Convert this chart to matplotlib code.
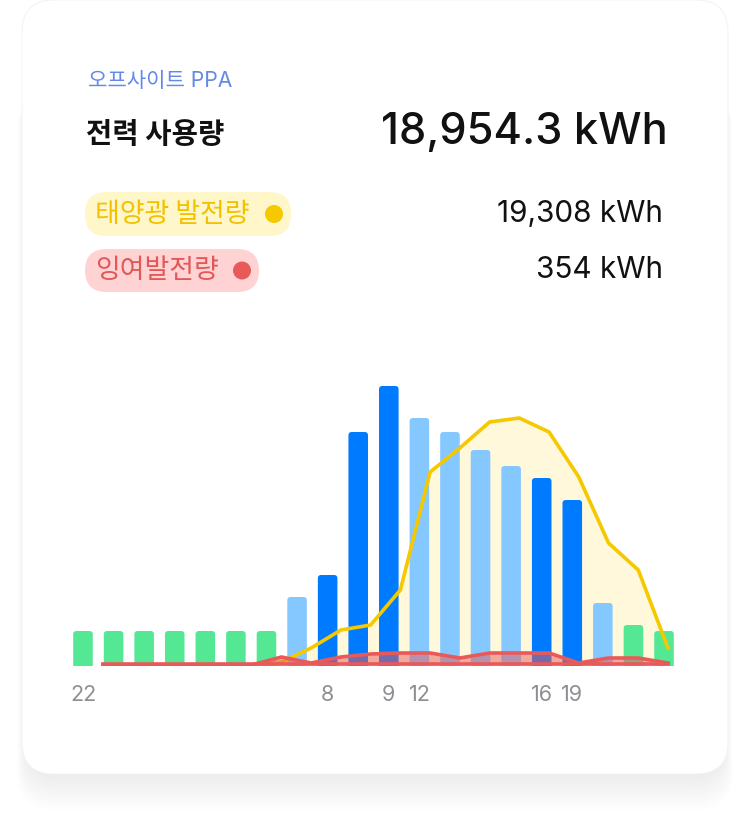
import numpy as np
import matplotlib.pyplot as plt
from matplotlib.patches import FancyBboxPatch, Circle

# 데이터
usage = [34, 34, 34, 34, 34, 34, 34, 68, 90, 233, 279, 247, 233, 215, 199, 187, 165, 62, 40, 34]
kind = ['off'] * 7 + ['mid', 'peak', 'peak', 'peak', 'mid', 'mid', 'mid', 'mid',
                      'peak', 'peak', 'mid', 'off', 'off']
solar = [0, 0, 0, 0, 0, 0, 3, 17, 35, 40, 75, 193, 217, 243, 247, 233, 188, 122, 95, 17]
surplus = [0, 0, 0, 0, 0, 0, 8, 2, 8, 11, 12, 12, 7, 12, 12, 12, 2, 7, 7, 2]
tick_idx = [0, 8, 10, 11, 15, 16]
tick_lbl = ['22', '8', '9', '12', '16', '19']

title_small = '오프사이트 PPA'
title_main = '전력 사용량'
total_usage = '18,954.3 kWh'
legend_names = ['태양광 발전량', '잉여발전량']
legend_values = ['19,308 kWh', '354 kWh']

bar_colors = {'off': '#55E894', 'mid': '#85C8FF', 'peak': '#007BFF'}
YELLOW = '#F5C800'
RED = '#E85A5A'
FONT = ['Inter', 'Noto Sans CJK KR', 'DejaVu Sans']
plt.rcParams['font.family'] = FONT

W, H = 750, 819
fig = plt.figure(figsize=(W / 100, H / 100), dpi=100)
fig.patch.set_facecolor('white')

# 카드 배경 (픽셀 좌표)
bg = fig.add_axes([0, 0, 1, 1])
bg.set_xlim(0, W)
bg.set_ylim(H, 0)
bg.axis('off')
# 부드러운 그림자
for k in range(18):
    off = 4 + k * 1.9
    grow = k * 0.5
    sh = FancyBboxPatch((22 - grow + 4, 60 + off), 706 + 2 * grow - 8, 714,
                        boxstyle='round,pad=0,rounding_size=36',
                        fc='#9090a0', ec='none', alpha=0.008)
    bg.add_patch(sh)
card = FancyBboxPatch((22, 0), 706, 774, boxstyle='round,pad=0,rounding_size=32',
                      fc='white', ec='#f3f3f5', lw=0.7)
bg.add_patch(card)

# 텍스트
bg.text(88, 81, title_small, fontsize=15.2, color='#6388E8', va='center', ha='left')
bg.text(86, 134, title_main, fontsize=20.6, fontweight='bold', color='#111111',
        va='center', ha='left', family=['Noto Sans CJK KR', 'DejaVu Sans'])
bg.text(668, 132, total_usage, fontsize=31.2, fontweight='medium', color='#111111',
        va='center', ha='right')

pills = [(85, 192, 206, 44, '#FFF6C9', '#F2C200', YELLOW, 274),
         (85, 249, 174, 43, '#FFD3D3', '#E05858', RED, 242)]
for (px, py, pw, ph, fc, tc, dc, dx), name, val in zip(pills, legend_names, legend_values):
    bg.add_patch(FancyBboxPatch((px, py), pw, ph,
                                boxstyle='round,pad=0,rounding_size=21.5',
                                fc=fc, ec='none'))
    bg.text(px + 10, py + ph / 2, name, fontsize=19.4, color=tc, va='center', ha='left',
            family=['Noto Sans CJK KR', 'DejaVu Sans'])
    bg.add_patch(Circle((dx, py + ph / 2), 9, fc=dc, ec='none'))
    bg.text(663, py + ph / 2, val, fontsize=21.4, color='#111111', va='center', ha='right')

# 차트 영역
step = 30.58
left_px = 83 - step / 2
ax = fig.add_axes([left_px / W, (H - 666) / H, (20 * step) / W, 286 / H])
ax.set_xlim(-0.5, 19.5)
ax.set_ylim(-1, 285)
ax.set_facecolor('none')
for s in ax.spines.values():
    s.set_visible(False)
ax.set_yticks([])

# 선 그래프는 막대와 약간 다른 x 범위에 놓임
line_x = np.linspace((103 - 83) / step, (668 - 83) / step, len(solar))

ax.fill_between(line_x, 0, solar, color='#FFF8DA', lw=0, zorder=1)

bw = 0.64
for i, v in enumerate(usage):
    p = FancyBboxPatch((i - bw / 2, -6), bw, v + 6,
                       boxstyle='round,pad=0,rounding_size=0.11',
                       mutation_aspect=step,
                       fc=bar_colors[kind[i]], ec='none', zorder=2)
    ax.add_patch(p)

ax.plot(line_x, solar, color=YELLOW, lw=2.6, zorder=3, solid_joinstyle='round')
ax.fill_between(line_x, 0, surplus, color=RED, alpha=0.5, lw=0, zorder=4)
ax.plot(line_x, np.zeros(len(surplus)) + 1.5, color=RED, lw=2.6, zorder=5)
ax.plot(line_x, surplus, color=RED, lw=2.6, zorder=5, solid_joinstyle='round')

ax.set_xticks(tick_idx)
ax.set_xticklabels(tick_lbl, fontsize=15.5, color='#8E8E93')
ax.tick_params(axis='x', length=0, pad=14)

fig.savefig('out.png', dpi=100, facecolor='white')
